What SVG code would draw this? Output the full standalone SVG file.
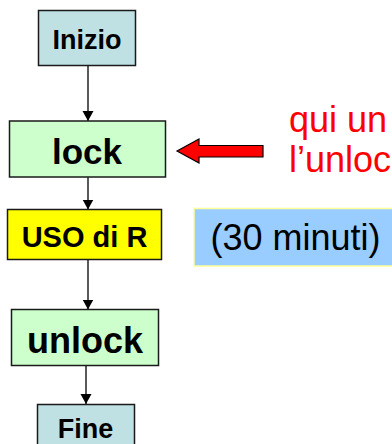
<svg xmlns="http://www.w3.org/2000/svg" width="392" height="444" viewBox="0 0 392 444">
<style>
.box{stroke:#1a1a1a;stroke-width:1.5}
.teal{fill:#bfe1e4}
.green{fill:#ccffcc}
.yellow{fill:#ffff00}
.lbl{font-family:"Liberation Sans",Arial,sans-serif;font-weight:bold;fill:#000;text-anchor:middle}
.plain{font-family:"Liberation Sans",Arial,sans-serif;font-size:36px}
.conn{stroke:#000;stroke-width:1.3;fill:none}
</style>
<defs>
<marker id="ah" markerUnits="userSpaceOnUse" markerWidth="12" markerHeight="12" viewBox="0 0 12 12" refX="10" refY="6" orient="auto">
<path d="M0,0.5 L10,6 L0,11.5 Z" fill="#000"/>
</marker>
</defs>
<g id="connectors">
<line class="conn" x1="88" y1="66" x2="88" y2="121" marker-end="url(#ah)"/>
<line class="conn" x1="88" y1="177" x2="88" y2="209.5" marker-end="url(#ah)"/>
<line class="conn" x1="88" y1="259.5" x2="88" y2="309.5" marker-end="url(#ah)"/>
<line class="conn" x1="86" y1="365.5" x2="86" y2="404" marker-end="url(#ah)"/>
</g>
<g id="inizio">
<rect class="box teal" x="38.5" y="10.5" width="97" height="55"/>
<text class="lbl" x="87" y="49" font-size="27">Inizio</text>
</g>
<g id="lock">
<rect class="box green" x="9.5" y="121" width="156" height="56"/>
<text class="lbl" x="87" y="164" font-size="35">lock</text>
</g>
<g id="uso">
<rect class="box yellow" x="7.5" y="209.5" width="154" height="50"/>
<text class="lbl" x="84.5" y="247" font-size="29">USO di R</text>
</g>
<g id="unlock">
<rect class="box green" x="11.5" y="309.5" width="147" height="56"/>
<text class="lbl" x="85" y="352.5" font-size="36">unlock</text>
</g>
<g id="fine">
<rect class="box teal" x="37.5" y="404.5" width="97" height="56"/>
<text class="lbl" x="85.5" y="438" font-size="27">Fine</text>
</g>
<g id="red-arrow">
<polygon points="177,151 199,139 199,145.5 263,145.5 263,157 199,157 199,163" fill="#ff0000" stroke="#000" stroke-width="1.2" stroke-linejoin="miter"/>
</g>
<g id="note">
<text class="plain" x="289" y="131.5" fill="#ff0000">qui un</text>
<text class="plain" x="289" y="172" fill="#ff0000">l’unloc</text>
</g>
<g id="durata">
<rect x="194" y="208.5" width="210" height="57.5" fill="#99ccff" stroke="#ffff99" stroke-width="1.5"/>
<text class="plain" x="210.5" y="250" fill="#000">(30 minuti)</text>
</g>
</svg>
